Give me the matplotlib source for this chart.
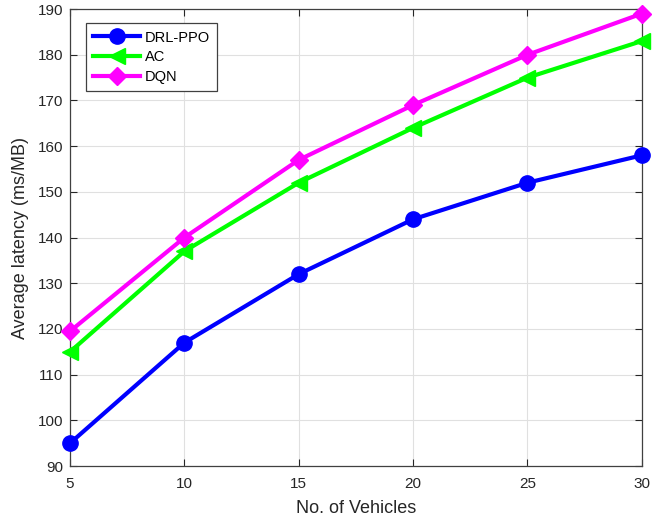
import matplotlib
matplotlib.use("Agg")
import matplotlib.pyplot as plt

# data
vehicles = [5, 10, 15, 20, 25, 30]
drl_ppo = [95, 117, 132, 144, 152, 158]
ac = [115, 137, 152, 164, 175, 183]
dqn = [119.5, 140, 157, 169, 180, 189]

plt.rcParams["font.family"] = ["Liberation Sans", "DejaVu Sans"]

fig = plt.figure(figsize=(6.52, 5.19), dpi=100)
ax = fig.add_axes([0.1074, 0.102, 0.877, 0.8805])

ax.plot(vehicles, drl_ppo, color="#0000ff", lw=3, marker="o", ms=11,
        label="DRL-PPO", clip_on=False, zorder=3)
ax.plot(vehicles, ac, color="#00ff00", lw=3, marker="<", ms=12,
        label="AC", clip_on=False, zorder=3)
ax.plot(vehicles, dqn, color="#ff00ff", lw=3, marker="D", ms=9,
        label="DQN", clip_on=False, zorder=3)

ax.set_xlim(5, 30)
ax.set_ylim(90, 190)
ax.set_xticks(vehicles)
ax.set_yticks(range(90, 191, 10))
ax.grid(True, color="#e0e0e0", lw=0.8)
ax.set_axisbelow(True)
ax.tick_params(direction="in", length=5, labelsize=11, colors="#262626",
               top=True, right=True)
ax.tick_params(axis="x", pad=8)
ax.tick_params(axis="y", pad=5)
for s in ax.spines.values():
    s.set_color("#404040")
    s.set_linewidth(0.9)

ax.set_xlabel("No. of Vehicles", fontsize=13, color="#262626", labelpad=6)
ax.set_ylabel("Average latency (ms/MB)", fontsize=13, color="#262626", labelpad=6)

leg = ax.legend(loc="upper left", bbox_to_anchor=(0.0155, 0.985), fontsize=10.5,
                fancybox=False, framealpha=1, edgecolor="#404040",
                handlelength=3.2, borderpad=0.5, labelspacing=0.4, handletextpad=0.3)
leg.get_frame().set_linewidth(0.9)
leg.set_zorder(5)

fig.savefig("out.png", dpi=100)
